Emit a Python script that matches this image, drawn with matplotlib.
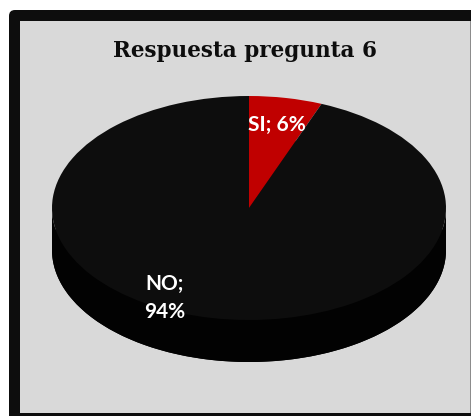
import matplotlib
matplotlib.use("Agg")
import matplotlib.pyplot as plt
from matplotlib.patches import FancyBboxPatch, Rectangle, Polygon
import numpy as np

# ---- data ----
title = "Respuesta pregunta 6"
categories = ["SI", "NO"]
values = [6, 94]
labels = ["SI; 6%", "NO;\n94%"]
top_colors = ["#c00000", "#0d0d0d"]
side_colors = ["#8a0000", "#020202"]

W, H = 471, 416
fig = plt.figure(figsize=(W / 100, H / 100), dpi=100)
fig.patch.set_facecolor("white")

# frame axes in pixel coordinates
bg = fig.add_axes([0, 0, 1, 1])
bg.set_xlim(0, W)
bg.set_ylim(H, 0)
bg.axis("off")
bg.add_patch(FancyBboxPatch((9, 10), 480, 420, boxstyle="round,pad=0,rounding_size=6",
                            facecolor="#0d0d0d", edgecolor="none"))
bg.add_patch(Rectangle((20, 21), 452, 392, facecolor="#d9d9d9", edgecolor="none"))
bg.add_patch(Rectangle((470, 21), 1, 392, facecolor="#8c8c8c", edgecolor="none"))
bg.text(245, 51, title, ha="center", va="center", fontsize=15.5, fontweight="bold",
        family="DejaVu Serif", color="#0d0d0d")

# pie axes: x from 52..446 px, y top 96..362 px
depth = 0.375
left, right, top, bottom = 52, 446, 96, 362
ax = fig.add_axes([left / W, (H - bottom) / H, (right - left) / W, (bottom - top) / H])
ax.set_facecolor("none")

# side (extruded) part
ax.pie(values, colors=side_colors, startangle=90, counterclock=False,
       center=(0, -depth), radius=1, wedgeprops=dict(linewidth=0))
t = np.linspace(np.pi, 2 * np.pi, 200)
xs = np.cos(t)
poly = np.concatenate([np.column_stack([xs, np.sin(t)]),
                       np.column_stack([xs[::-1], np.sin(t[::-1]) - depth])])
ax.add_patch(Polygon(poly, closed=True, facecolor="#020202", edgecolor="none"))
# top face
wedges, _ = ax.pie(values, colors=top_colors, startangle=90, counterclock=False,
                   center=(0, 0), radius=1, wedgeprops=dict(linewidth=0))

# labels
label_pos = [(0.14, 0.74), (-0.43, -0.80)]
for lab, (lx, ly) in zip(labels, label_pos):
    ax.text(lx, ly, lab, ha="center", va="center", color="white", fontsize=15,
            fontweight="bold", family="Lato", linespacing=1.5)

ax.set_aspect("auto")
ax.set_xlim(-1, 1)
ax.set_ylim(-1 - depth, 1)
ax.axis("off")

fig.savefig("out.png", dpi=100, facecolor=fig.get_facecolor())
